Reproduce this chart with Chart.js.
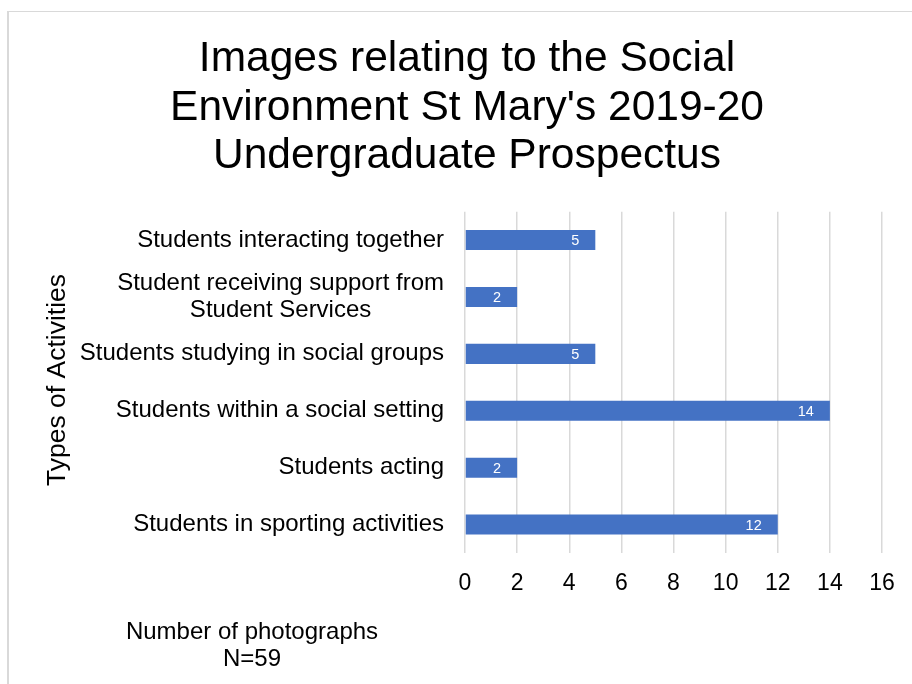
<!DOCTYPE html>
<html>
<head>
<meta charset="utf-8">
<title>Social Environment images</title>
<script src="https://cdn.jsdelivr.net/npm/chart.js@4"></script>
<style>
  html, body { margin: 0; padding: 0; background: #fff; overflow: hidden; }
  #frame {
    position: absolute; left: 7px; top: 11px; width: 1200px; height: 1000px;
    border-top: 1px solid #d9d9d9; border-left: 2px solid #d9d9d9;
  }
  #chart { position: absolute; left: 0; top: 0; }
</style>
</head>
<body>
<div id="frame"></div>
<canvas id="chart" width="912" height="684"></canvas>
<script>
// activity categories, top to bottom
const categories = [
  'Students interacting together',
  ['Student receiving support from', 'Student Services'],
  'Students studying in social groups',
  'Students within a social setting',
  'Students acting',
  'Students in sporting activities'
];
// number of photographs per activity
const photoCounts = [5, 2, 5, 14, 2, 12];
const axisMax = 16;
const axisStep = 2;
const titleLines = ['Images relating to the Social', "Environment St Mary's 2019-20", 'Undergraduate Prospectus'];
const xCaption = ['Number of photographs', 'N=59'];
const yCaption = 'Types of Activities';

const FONT = "'Liberation Sans', Arial, sans-serif";
const BAR_BLUE = '#4472C4';

// category labels: right edge on the axis, multi-line labels centred on each other
const categoryLabels = {
    id: 'categoryLabels',
    afterDraw(chart) {
        const ctx = chart.ctx;
        const yScale = chart.scales.y;
        const right = chart.chartArea.left - 21;
        ctx.save();
        ctx.font = '24px ' + FONT;
        ctx.fillStyle = '#000';
        ctx.textAlign = 'center';
        ctx.textBaseline = 'middle';
        categories.forEach((label, i) => {
            const lines = Array.isArray(label) ? label : [label];
            const w = Math.max(...lines.map(l => ctx.measureText(l).width));
            const cx = right - w / 2;
            const lh = 27;
            const y0 = yScale.getPixelForValue(i) - (lines.length - 1) * lh / 2;
            lines.forEach((l, k) => ctx.fillText(l, cx, y0 + k * lh));
        });
        ctx.restore();
    }
};

// value labels inside the end of each bar
const valueLabels = {
    id: 'valueLabels',
    afterDatasetsDraw(chart) {
        const ctx = chart.ctx;
        const meta = chart.getDatasetMeta(0);
        ctx.save();
        ctx.font = '14.5px ' + FONT;
        ctx.fillStyle = '#fff';
        ctx.textAlign = 'right';
        ctx.textBaseline = 'middle';
        meta.data.forEach((bar, i) => {
            ctx.fillText(String(photoCounts[i]), bar.x - 16, bar.y + 1);
        });
        ctx.restore();
    }
};

// axis captions
const axisCaptions = {
    id: 'axisCaptions',
    afterDraw(chart) {
        const ctx = chart.ctx;
        ctx.save();
        ctx.fillStyle = '#000';
        ctx.textAlign = 'center';
        ctx.textBaseline = 'middle';

        ctx.font = '26.5px ' + FONT;
        ctx.translate(58, 380);
        ctx.rotate(-Math.PI / 2);
        ctx.fillText(yCaption, 0, 0);
        ctx.setTransform(1, 0, 0, 1, 0, 0);

        ctx.font = '24px ' + FONT;
        xCaption.forEach((l, k) => ctx.fillText(l, 252, 632 + k * 27));
        ctx.restore();
    }
};

new Chart(document.getElementById('chart'), {
    type: 'bar',
    data: {
        labels: categories,
        datasets: [{
            data: photoCounts,
            backgroundColor: BAR_BLUE,
            borderWidth: 0,
            categoryPercentage: 1,
            barPercentage: 0.352
        }]
    },
    options: {
        indexAxis: 'y',
        responsive: false,
        animation: false,
        devicePixelRatio: 1,
        layout: { padding: { left: 52, right: 30, top: 0, bottom: 0 } },
        plugins: {
            legend: { display: false },
            tooltip: { enabled: false },
            title: {
                display: true,
                text: titleLines,
                color: '#000',
                font: { family: FONT, size: 42.5, weight: 'normal', lineHeight: 1.15 },
                padding: { top: 34.5, bottom: 30.5 }
            }
        },
        scales: {
            x: {
                min: 0,
                max: axisMax,
                ticks: {
                    stepSize: axisStep,
                    color: '#000',
                    padding: 17,
                    font: { family: FONT, size: 23 }
                },
                grid: { color: '#d9d9d9', lineWidth: 1.5, drawTicks: false },
                border: { display: false },
                afterFit(scale) { scale.height = 131; }
            },
            y: {
                ticks: { display: false },
                grid: { display: false, drawTicks: false },
                border: { display: false },
                afterFit(scale) { scale.width = 413; }
            }
        }
    },
    plugins: [categoryLabels, valueLabels, axisCaptions]
});
</script>
</body>
</html>
